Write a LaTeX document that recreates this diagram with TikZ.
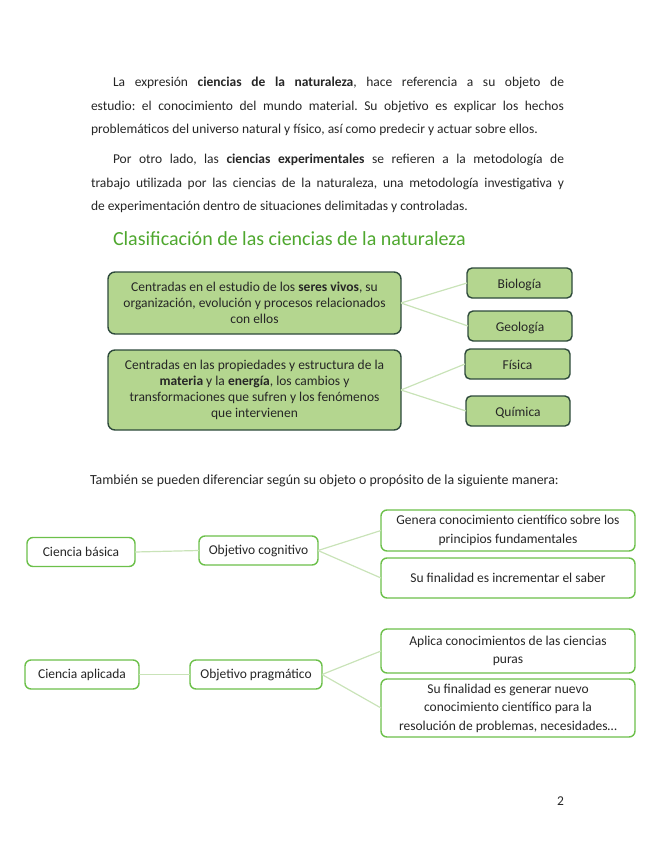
\documentclass[tikz,border=0pt]{standalone}
\usepackage{fontspec}
\setmainfont{Carlito}
\frenchspacing
\definecolor{fillg}{HTML}{B4D68F}
\definecolor{edged}{HTML}{2E4A3C}
\definecolor{titleg}{HTML}{4EA72E}
\definecolor{edgeg}{HTML}{6CC04A}
\definecolor{lineg}{HTML}{C9E3B8}
\definecolor{txt}{HTML}{262626}
\newcommand{\jlinebox}[2]{\hbox to #1{#2}}
\tikzset{
  x=1pt,y=-1pt,
  every node/.style={inner sep=0pt,outer sep=0pt,text=txt},
  bodyline/.style={anchor=base west,font=\fontsize{13.5}{16}\selectfont},
  darkbox/.style={draw=edged,line width=1.4pt,fill=fillg,rounded corners=7pt,font=\fontsize{13.5}{16}\selectfont,align=center},
  smallbox/.style={draw=edged,line width=1.4pt,fill=fillg,rounded corners=5pt,font=\fontsize{13.5}{16}\selectfont,minimum height=30pt,text height=11pt,text depth=1pt},
  lightbox/.style={draw=edgeg,line width=1.4pt,fill=white,rounded corners=6pt,font=\fontsize{13.5}{18.5}\selectfont,align=center},
  conn/.style={draw=lineg,line width=1.2pt},
}
\begin{document}
\begin{tikzpicture}
\useasboundingbox (0,0) rectangle (655,848);
% paragraph 1
\node[bodyline] (l1) at (113,87) {\jlinebox{451pt}{La expresión \textbf{ciencias de la naturaleza}, hace referencia a su objeto de}};
\node[bodyline] (l2) at (91,110.5) {\jlinebox{473pt}{estudio: el conocimiento del mundo material. Su objetivo es explicar los hechos}};
\node[bodyline] (l3) at (91,134) {problemáticos del universo natural y físico, así como predecir y actuar sobre ellos.};
% paragraph 2
\node[bodyline] (l4) at (113,163) {\jlinebox{451pt}{Por otro lado, las \textbf{ciencias experimentales} se refieren a la metodología de}};
\node[bodyline] (l5) at (91,187) {\jlinebox{473pt}{trabajo utilizada por las ciencias de la naturaleza, una metodología investigativa y}};
\node[bodyline] (l6) at (91,210.5) {de experimentación dentro de situaciones delimitadas y controladas.};
% title
\node[anchor=base west,text=titleg,font=\fontsize{20}{24}\selectfont] (title) at (113,245) {Clasificación de las ciencias de la naturaleza};
% section 1
\node[darkbox,minimum width=293pt,minimum height=62pt] (A) at (254.5,303) {Centradas en el estudio de los \textbf{seres vivos}, su\\organización, evolución y procesos relacionados\\con ellos};
\node[darkbox,minimum width=293pt,minimum height=80pt] (B) at (254.5,390) {Centradas en las propiedades y estructura de la\\\textbf{materia} y la \textbf{energía}, los cambios y\\transformaciones que sufren y los fenómenos\\que intervienen};
\node[smallbox,minimum width=105pt] (bio) at (519.5,283) {Biología};
\node[smallbox,minimum width=104pt] (geo) at (520,326) {Geología};
\node[smallbox,minimum width=105pt] (fis) at (517.5,364) {Física};
\node[smallbox,minimum width=104pt] (qui) at (518,411) {Química};
\draw[conn] (A.east) -- (bio.west);
\draw[conn] (A.east) -- (geo.west);
\draw[conn] (B.east) -- (fis.west);
\draw[conn] (B.east) -- (qui.west);
% sentence
\node[bodyline,font=\fontsize{13.9}{16}\selectfont] (p3) at (90,484.5) {También se pueden diferenciar según su objeto o propósito de la siguiente manera:};
% section 2
\node[lightbox,minimum width=108pt,minimum height=29pt] (cb) at (81,552) {Ciencia básica};
\node[lightbox,minimum width=119pt,minimum height=29pt] (oc) at (258.5,550.5) {Objetivo cognitivo};
\node[lightbox,minimum width=254pt,minimum height=41pt] (g1) at (508,530.5) {Genera conocimiento científico sobre los\\principios fundamentales};
\node[lightbox,minimum width=254pt,minimum height=40pt] (g2) at (508,578) {Su finalidad es incrementar el saber};
\draw[conn] (cb.east) -- (oc.west);
\draw[conn] (oc.east) -- (g1.west);
\draw[conn] (oc.east) -- (g2.west);
\node[lightbox,minimum width=114pt,minimum height=29pt] (ca) at (82,674.5) {Ciencia aplicada};
\node[lightbox,minimum width=132pt,minimum height=29pt] (op) at (256,674.5) {Objetivo pragmático};
\node[lightbox,minimum width=254pt,minimum height=44pt] (h1) at (508,651) {Aplica conocimientos de las ciencias\\puras};
\node[lightbox,minimum width=254pt,minimum height=58pt] (h2) at (508,708) {Su finalidad es generar nuevo\\conocimiento científico para la\\resolución de problemas, necesidades…};
\draw[conn] (ca.east) -- (op.west);
\draw[conn] (op.east) -- (h1.west);
\draw[conn] (op.east) -- (h2.west);
% page number
\node[bodyline] (pn) at (557,805) {2};
\end{tikzpicture}
\end{document}
